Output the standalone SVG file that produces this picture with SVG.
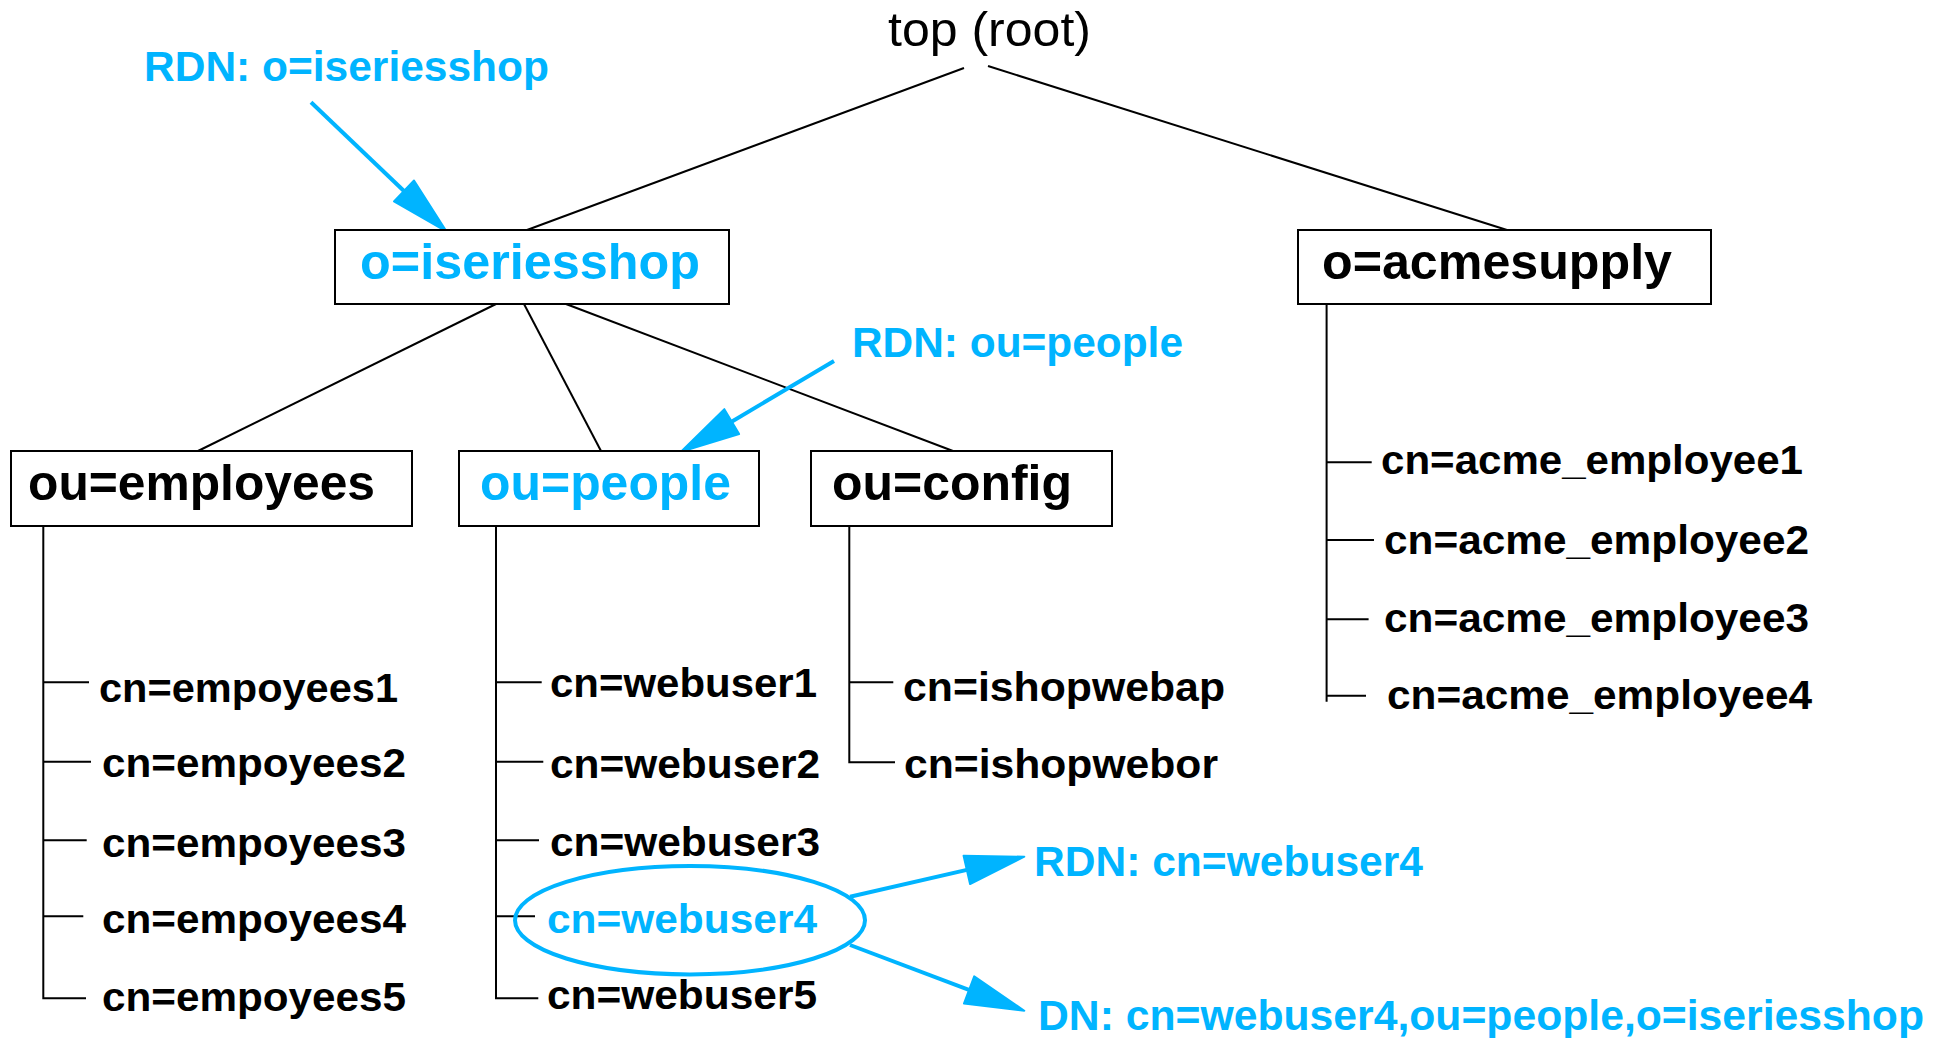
<svg xmlns="http://www.w3.org/2000/svg" width="1944" height="1038" viewBox="0 0 1944 1038">
<style>
text{font-family:"Liberation Sans",Arial,sans-serif;font-weight:bold;fill:#000}
.blue{fill:#00b4ff}
.root{font-weight:normal;font-size:48px}
.box{fill:#fff;stroke:#000;stroke-width:2}
.bt{font-size:50px}
.cn{font-size:40px}
.lbl{font-size:43px}
.ln{stroke:#000;stroke-width:2;fill:none}
.arr{stroke:#00b4ff;stroke-width:4;fill:none;marker-end:url(#ah)}
</style>
<defs>
<marker id="ah" markerUnits="userSpaceOnUse" markerWidth="64" markerHeight="35" refX="10" refY="15.5" orient="auto" overflow="visible">
<path d="M1,1 L60,15.5 L1,30 Z" fill="#00b4ff" stroke="#00b4ff" stroke-width="2" stroke-linejoin="round"/>
</marker>
</defs>
<rect width="1944" height="1038" fill="#fff"/>

<g id="connectors">
<line class="ln" x1="964" y1="68" x2="527" y2="230"/>
<line class="ln" x1="988" y1="66" x2="1507" y2="230"/>
<line class="ln" x1="496" y1="304" x2="198" y2="451"/>
<line class="ln" x1="524" y1="304" x2="601" y2="451"/>
<line class="ln" x1="566" y1="304" x2="953" y2="451"/>
<path class="ln" d="M43.3,526 V998.3 H86 M43.3,682.3 H89 M43.3,761.7 H91 M43.3,840.3 H86.7 M43.3,916.3 H83.3"/>
<path class="ln" d="M496,526 V998.3 H538.3 M496,682.3 H541.7 M496,761.7 H543.3 M496,840.3 H539 M496,916.3 H535"/>
<path class="ln" d="M849.3,526 V762.3 H895 M849.3,682.3 H893.3"/>
<path class="ln" d="M1326.6,304 V701.7 M1326.6,462.3 H1371.7 M1326.6,540 H1374 M1326.6,619.3 H1368.6 M1326.6,695.7 H1366"/>
<line class="arr" x1="311" y1="102.3" x2="410.5" y2="197.2"/>
<line class="arr" x1="834" y1="361" x2="724" y2="426.2"/>
<line class="arr" x1="850" y1="896.7" x2="975.6" y2="867.9"/>
<line class="arr" x1="850" y1="945" x2="977.5" y2="993.1"/>
</g>

<g id="root"><text class="root" x="888" y="46" textLength="203" lengthAdjust="spacingAndGlyphs">top (root)</text></g>

<g id="rdn-iseriesshop"><text class="lbl blue" x="144" y="81" textLength="405" lengthAdjust="spacingAndGlyphs">RDN: o=iseriesshop</text></g>

<g id="o-iseriesshop">
<rect class="box" x="335" y="230" width="394" height="74"/>
<text class="bt blue" x="360" y="279" textLength="340" lengthAdjust="spacingAndGlyphs">o=iseriesshop</text>
</g>

<g id="o-acmesupply">
<rect class="box" x="1298" y="230" width="413" height="74"/>
<text class="bt" x="1322" y="279" textLength="350" lengthAdjust="spacingAndGlyphs">o=acmesupply</text>
</g>

<g id="rdn-people"><text class="lbl blue" x="852" y="357" textLength="331" lengthAdjust="spacingAndGlyphs">RDN: ou=people</text></g>

<g id="ou-employees">
<rect class="box" x="11" y="451" width="401" height="75"/>
<text class="bt" x="28" y="500" textLength="347" lengthAdjust="spacingAndGlyphs">ou=employees</text>
</g>

<g id="ou-people">
<rect class="box" x="459" y="451" width="300" height="75"/>
<text class="bt blue" x="480" y="500" textLength="251" lengthAdjust="spacingAndGlyphs">ou=people</text>
</g>

<g id="ou-config">
<rect class="box" x="811" y="451" width="301" height="75"/>
<text class="bt" x="832" y="500" textLength="240" lengthAdjust="spacingAndGlyphs">ou=config</text>
</g>

<g id="employees-list">
<text class="cn" x="99" y="701.7" textLength="299" lengthAdjust="spacingAndGlyphs">cn=empoyees1</text>
<text class="cn" x="102" y="776.7" textLength="304" lengthAdjust="spacingAndGlyphs">cn=empoyees2</text>
<text class="cn" x="102" y="857.3" textLength="304" lengthAdjust="spacingAndGlyphs">cn=empoyees3</text>
<text class="cn" x="102" y="933.3" textLength="304" lengthAdjust="spacingAndGlyphs">cn=empoyees4</text>
<text class="cn" x="102" y="1010.7" textLength="304" lengthAdjust="spacingAndGlyphs">cn=empoyees5</text>
</g>

<g id="webuser-list">
<text class="cn" x="550" y="697.3" textLength="267" lengthAdjust="spacingAndGlyphs">cn=webuser1</text>
<text class="cn" x="550" y="778.3" textLength="270" lengthAdjust="spacingAndGlyphs">cn=webuser2</text>
<text class="cn" x="550" y="856" textLength="270" lengthAdjust="spacingAndGlyphs">cn=webuser3</text>
<text class="cn" x="547" y="1009.3" textLength="270" lengthAdjust="spacingAndGlyphs">cn=webuser5</text>
</g>

<g id="webuser4">
<ellipse cx="690" cy="920.2" rx="175" ry="54.2" fill="none" stroke="#00b4ff" stroke-width="4"/>
<text class="cn blue" x="547" y="932.7" textLength="270" lengthAdjust="spacingAndGlyphs">cn=webuser4</text>
</g>

<g id="config-list">
<text class="cn" x="903" y="701" textLength="322" lengthAdjust="spacingAndGlyphs">cn=ishopwebap</text>
<text class="cn" x="904" y="778.3" textLength="314" lengthAdjust="spacingAndGlyphs">cn=ishopwebor</text>
</g>

<g id="acme-list">
<text class="cn" x="1381" y="474" textLength="422" lengthAdjust="spacingAndGlyphs">cn=acme_employee1</text>
<text class="cn" x="1384" y="554" textLength="425" lengthAdjust="spacingAndGlyphs">cn=acme_employee2</text>
<text class="cn" x="1384" y="632" textLength="425" lengthAdjust="spacingAndGlyphs">cn=acme_employee3</text>
<text class="cn" x="1387" y="709" textLength="425" lengthAdjust="spacingAndGlyphs">cn=acme_employee4</text>
</g>

<g id="rdn-webuser4"><text class="lbl blue" x="1034" y="875.7" textLength="389" lengthAdjust="spacingAndGlyphs">RDN: cn=webuser4</text></g>

<g id="dn-webuser4"><text class="lbl blue" x="1038" y="1030" textLength="886" lengthAdjust="spacingAndGlyphs">DN: cn=webuser4,ou=people,o=iseriesshop</text></g>
</svg>
